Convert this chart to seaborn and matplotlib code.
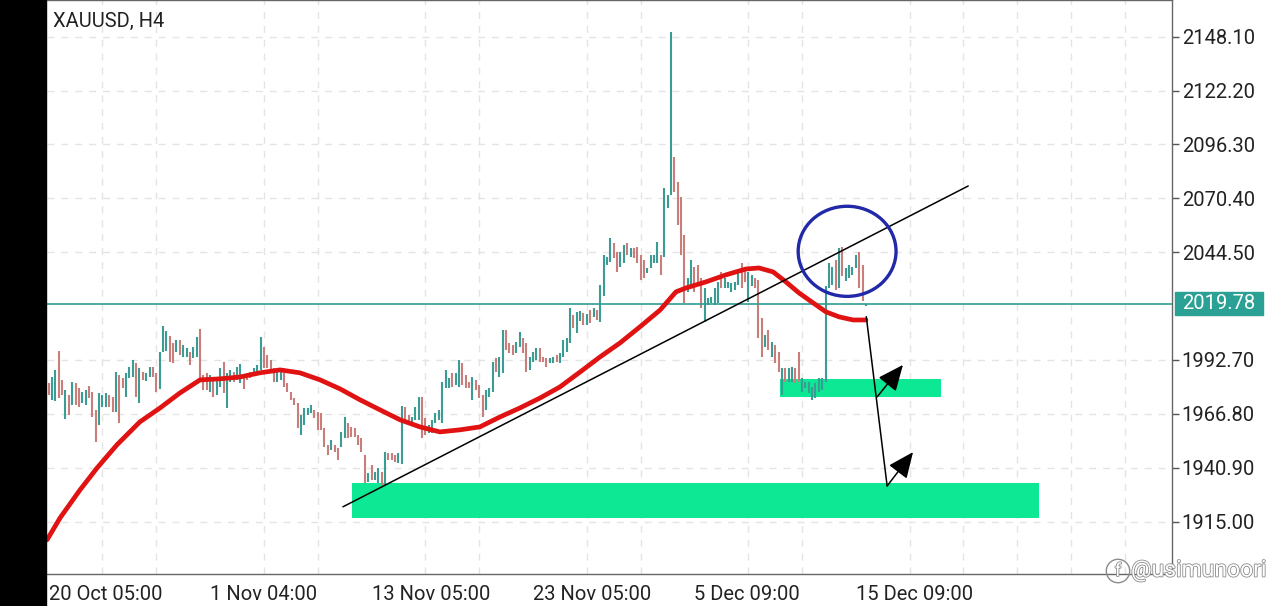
import numpy as np
import pandas as pd
import seaborn as sns
import matplotlib.pyplot as plt
from matplotlib.patches import Rectangle, Ellipse
import matplotlib.patheffects as pe

# ---- H4 bars (open / close) ----
opens = [
    1981.5, 1973.5, 1973.0, 1997.0, 1983.0, 1964.5, 1976.0, 1971.0, 1981.5, 1979.0,
    1971.8, 1971.0, 1980.3, 1977.5, 1968.6, 1961.4, 1970.2, 1970.2, 1975.9, 1975.0,
    1967.8, 1985.5, 1983.9, 1975.0, 1983.9, 1984.7, 1991.0, 1971.8, 1986.7, 1982.6,
    1984.7, 1989.5, 1986.3, 1978.7, 1996.7, 1997.0, 2004.4, 2000.7, 1996.7, 2002.3,
    1994.3, 1994.3, 1996.7, 1993.5, 1994.3, 2007.6, 1985.5, 1986.3, 1977.5, 1984.7,
    1975.9, 1979.9, 1991.9, 1969.8, 1982.3, 1987.1, 1983.1, 1981.5, 1985.8, 1986.3,
    1987.1, 1985.5, 1986.3, 1987.9, 1999.1, 1995.1, 1992.7, 1988.7, 1982.3, 1983.1,
    1986.3, 1981.5, 1977.5, 1974.3, 1971.8, 1956.6, 1961.4, 1966.2, 1967.0, 1968.6,
    1967.8, 1967.0, 1959.8, 1951.8, 1949.4, 1951.8, 1950.2, 1951.0, 1955.0, 1962.2,
    1960.6, 1959.8, 1956.6, 1955.0, 1947.0, 1934.2, 1942.2, 1935.0, 1933.4, 1939.0,
    1932.6, 1947.8, 1947.8, 1947.0, 1943.0, 1942.7, 1969.9, 1966.2, 1961.9, 1963.8,
    1963.8, 1974.7, 1964.6, 1957.4, 1957.4, 1962.2, 1963.8, 1962.2, 1979.0, 1979.0,
    1986.3, 1980.7, 1979.9, 1991.1, 1985.5, 1982.3, 1973.5, 1983.1, 1980.7, 1975.9,
    1968.7, 1975.1, 1977.5, 1993.5, 1984.7, 1986.3, 2007.1, 2000.7, 1999.9, 1995.9,
    1999.1, 2003.1, 2000.7, 1988.0, 1991.9, 1992.7, 1998.3, 1994.3, 1993.5, 1991.1,
    1991.1, 1995.1, 1991.1, 1994.3, 1996.7, 2000.7, 2014.4, 2005.5, 2011.2, 2015.2,
    2009.5, 2016.7, 2013.5, 2016.7, 2011.1, 2023.2, 2038.4, 2040.0, 2048.8, 2044.8,
    2037.6, 2039.2, 2048.8, 2042.4, 2046.4, 2047.2, 2043.2, 2040.8, 2034.4, 2036.8,
    2039.2, 2039.2, 2043.2, 2042.4, 2065.6, 2072.0, 2090.4, 2078.4, 2071.2, 2052.8,
    2025.5, 2028.7, 2037.6, 2038.4, 2032.0, 2011.1, 2019.1, 2019.9, 2019.1, 2019.9,
    2035.2, 2027.1, 2027.1, 2025.5, 2026.3, 2028.7, 2039.2, 2036.0, 2020.7, 2028.0,
    2032.0, 2031.2, 2012.8, 1999.1, 2007.1, 1994.3, 1999.9, 1996.7, 1975.9, 1988.7,
    1982.3, 1982.3, 1988.7, 1996.7, 1977.5, 1979.1, 1976.7, 1973.5, 1974.3, 1977.5,
    1978.3, 1982.3, 2027.2, 2028.8, 2040.8, 2027.2, 2047.2, 2030.4, 2032.0, 2033.6,
    2036.8, 2044.8, 2038.4, 2018.8,
]
closes = [
    1976.0, 1984.7, 1988.0, 1974.5, 1976.0, 1978.3, 1966.0, 1982.3, 1971.0, 1970.0,
    1977.5, 1978.3, 1974.2, 1965.5, 1953.4, 1976.7, 1975.9, 1976.7, 1970.2, 1967.8,
    1986.7, 1962.2, 1979.0, 1986.3, 1989.5, 1992.7, 1975.0, 1988.7, 1983.0, 1986.3,
    1989.5, 1984.7, 1977.1, 1996.7, 2009.2, 2006.6, 1991.9, 1991.0, 2002.3, 1995.0,
    1999.9, 1998.3, 1990.3, 1999.1, 2003.9, 1983.9, 1978.3, 1978.3, 1985.5, 1975.0,
    1983.1, 1988.7, 1976.7, 1986.3, 1987.9, 1982.3, 1989.5, 1990.6, 1978.7, 1983.1,
    1983.9, 1988.7, 1990.3, 2003.9, 1988.7, 1988.7, 1987.9, 1982.3, 1987.1, 1987.1,
    1979.9, 1977.5, 1973.5, 1971.1, 1959.8, 1966.2, 1969.4, 1969.4, 1971.1, 1964.6,
    1959.0, 1959.0, 1951.0, 1947.0, 1954.2, 1948.6, 1944.6, 1958.2, 1965.4, 1955.0,
    1955.8, 1955.8, 1951.8, 1948.6, 1933.4, 1938.2, 1935.0, 1939.0, 1940.6, 1932.6,
    1948.6, 1944.6, 1944.6, 1943.8, 1947.8, 1970.6, 1963.8, 1962.2, 1965.4, 1969.9,
    1974.7, 1955.0, 1956.6, 1961.4, 1963.8, 1967.0, 1968.6, 1982.3, 1987.9, 1983.9,
    1979.9, 1986.3, 1992.7, 1980.7, 1979.0, 1979.1, 1984.7, 1978.3, 1974.3, 1965.5,
    1978.3, 1979.1, 1991.9, 1987.1, 1994.3, 2007.1, 1997.5, 1995.9, 1995.1, 2001.5,
    2006.0, 1995.9, 1987.1, 1994.3, 1996.7, 1998.3, 1991.9, 1991.9, 1989.5, 1993.5,
    1994.3, 1991.9, 1995.9, 2002.3, 2003.1, 2017.6, 2008.0, 2015.6, 2016.3, 2009.6,
    2014.7, 2010.3, 2017.6, 2011.9, 2028.8, 2043.2, 2042.4, 2051.2, 2041.6, 2035.2,
    2044.8, 2048.0, 2043.2, 2046.4, 2041.6, 2039.2, 2031.2, 2032.0, 2036.8, 2043.2,
    2043.2, 2049.6, 2033.6, 2075.2, 2072.0, 2150.5, 2073.6, 2057.6, 2043.2, 2019.9,
    2031.9, 2040.8, 2025.5, 2028.7, 2017.5, 2027.1, 2022.3, 2023.1, 2027.1, 2030.3,
    2027.1, 2031.9, 2030.3, 2029.5, 2030.3, 2035.2, 2027.1, 2030.3, 2035.2, 2033.6,
    2027.2, 2003.1, 1994.3, 2004.7, 1997.5, 2001.5, 1991.1, 1987.1, 1988.7, 1982.3,
    1988.7, 1989.5, 1981.5, 1982.3, 1983.9, 1982.3, 1982.3, 1979.9, 1981.5, 1983.9,
    1983.9, 2028.0, 2039.2, 2037.6, 2026.4, 2046.4, 2032.8, 2036.8, 2038.4, 2037.6,
    2043.2, 2027.2, 2020.8, 2019.78,
]

# moving average (red line), read at sample points
ma_bars = [-0.5, 3.4, 9.3, 14.4, 20.3, 27.1, 33.1, 39.0, 45.0, 50.9, 56.9, 62.8,
           68.8, 74.7, 80.7, 86.6, 92.6, 98.5, 104.5, 110.4, 116.3, 122.3, 128.2,
           134.2, 140.1, 146.1, 152.0, 158.0, 163.9, 169.9, 175.8, 181.8, 186.5,
           189.5, 195.4, 201.4, 207.3, 211.2, 215.4, 219.2, 223.1, 227.3, 231.1,
           235.0, 239.2, 243.0]
ma_vals = [1906.2, 1916.8, 1930.2, 1940.8, 1951.9, 1962.9, 1969.6, 1976.8, 1983.1,
           1983.6, 1984.5, 1986.5, 1987.9, 1986.5, 1983.1, 1978.8, 1973.5, 1968.7,
           1963.9, 1960.5, 1958.1, 1959.1, 1960.5, 1965.3, 1969.6, 1974.4, 1979.7,
           1986.9, 1994.1, 2000.9, 2008.6, 2016.7, 2025.4, 2027.3, 2030.2, 2033.6,
           2036.4, 2036.9, 2035.0, 2030.2, 2024.9, 2020.1, 2015.8, 2013.4, 2011.9,
           2011.9]

tick_bars = [0, 48, 96, 144, 192, 240]
tick_labels = ['20 Oct 05:00', '1 Nov 04:00', '13 Nov 05:00', '23 Nov 05:00',
               '5 Dec 09:00', '15 Dec 09:00']
price_ticks = [1915.00, 1940.90, 1966.80, 1992.70, 2044.50, 2070.40, 2096.30,
               2122.20, 2148.10]
last_price = 2019.78

# drawings
trend_bars = [87.5, 273.4]
trend_vals = [1922.1, 2076.3]
zone_bars = [(90.3, 294.5), (217.5, 265.3)]
zone_vals = [(1916.8, 1933.6), (1974.9, 1983.6)]
drop_bars = [243.1, 249.3]
drop_vals = [2013.5, 1932.1]
arrow_from = [(246.3, 1974.9), (249.3, 1932.1)]
arrow_to = [(254.0, 1990.3), (257.0, 1948.4)]

TEAL = '#3a9c93'
RED = '#c97e7b'
FONT = 'Roboto'

df = pd.DataFrame({'open': opens, 'close': closes})
df['bar'] = np.arange(len(df))
df['lo'] = df[['open', 'close']].min(axis=1)
df['hi'] = df[['open', 'close']].max(axis=1)
df['col'] = np.where(df['close'] >= df['open'], TEAL, RED)

sns.set_theme(style='white')
plt.rcParams['font.family'] = [FONT, 'DejaVu Sans']

fig = plt.figure(figsize=(12.8, 6.06), dpi=100)
ax = fig.add_axes([47 / 1280, 32 / 606, 1125 / 1280, 574 / 606])
fig.patches.append(Rectangle((0, 0), 46 / 1280, 1, transform=fig.transFigure,
                             color='black', zorder=0))

# grid
ax.set_xticks(np.arange(0, 335, 16), minor=True)
ax.grid(which='minor', axis='x', color='#e4e4e4', ls=(0, (5, 5)), lw=1)
ax.grid(which='major', axis='y', color='#e4e4e4', ls=(0, (5, 5)), lw=1)
ax.grid(which='major', axis='x', visible=False)

# zones
for (b0, b1), (v0, v1) in zip(zone_bars, zone_vals):
    ax.add_patch(Rectangle((b0, v0), b1 - b0, v1 - v0, color='#0ce894', lw=0, zorder=1))

# bars
ax.vlines(df['bar'], df['lo'], df['hi'], colors=df['col'], lw=1.5, zorder=2)

# last price line
ax.axhline(last_price, color='#2f9d92', lw=1.2, zorder=3)

# moving average
sns.lineplot(x=ma_bars, y=ma_vals, ax=ax, color='#e01212', lw=3.4, sort=False,
             zorder=4)

# trend line and drop line
ax.plot(trend_bars, trend_vals, color='black', lw=1.1, zorder=5)
ax.plot(drop_bars, drop_vals, color='black', lw=1.1, zorder=5)
for p0, p1 in zip(arrow_from, arrow_to):
    ax.annotate('', xy=p1, xytext=p0, zorder=6,
                arrowprops=dict(arrowstyle='-|>,head_length=0.8,head_width=0.35',
                                color='black', lw=1.1, mutation_scale=20,
                                shrinkA=0, shrinkB=0))

# circle
ax.add_patch(Ellipse((237.4, 2044.9), 29.1, 43.3, fill=False, ec='#2229a8',
                     lw=2.4, zorder=6))

ax.set_xlim(-0.5, 334.0)
ax.set_ylim(1889.8, 2165.7)

ax.set_xticks(tick_bars)
ax.set_xticklabels(tick_labels)
for lab in ax.get_xticklabels():
    lab.set_horizontalalignment('left')
ax.yaxis.tick_right()
ax.set_yticks(price_ticks)
ax.set_yticklabels([f'{v:.2f}' for v in price_ticks])
ax.tick_params(axis='both', which='major', labelsize=14.5, colors='#555',
               labelcolor='#222', length=5, width=1, direction='out')
ax.tick_params(axis='x', pad=3)
ax.tick_params(axis='y', pad=2)
ax.tick_params(which='minor', length=0)

ax.spines['left'].set_visible(False)
for side in ['right', 'bottom', 'top']:
    ax.spines[side].set_color('#666')
    ax.spines[side].set_linewidth(1)

# price label box on the axis
trans = ax.get_yaxis_transform()
ax.add_patch(Rectangle((1.0027, last_price - 5.5), 0.0782, 11.05, transform=trans,
                       color='#2ba094', clip_on=False, zorder=7))
ax.text(1.0027 + 0.0391, last_price, f'{last_price:.2f}', transform=trans,
        ha='center', va='center', color='white', fontsize=14.5, zorder=8)

ax.text(0.0053, 0.962, 'XAUUSD, H4', transform=ax.transAxes, ha='left',
        va='center', fontsize=14.5, color='#222')

# watermark
wm_fx = [pe.withStroke(linewidth=1.2, foreground='#8c8c8c')]
fig.text(1118 / 1280, 1 - 571 / 606, 'f', ha='center', va='center',
         fontsize=13, color='white', path_effects=wm_fx,
         bbox=dict(boxstyle='circle,pad=0.15', fc='none', ec='#8c8c8c', lw=1))
fig.text(1131 / 1280, 1 - 570 / 606, '@usimunoori', ha='left', va='center',
         fontsize=16.5, color='white', path_effects=wm_fx)

plt.savefig('out.png', dpi=100)
